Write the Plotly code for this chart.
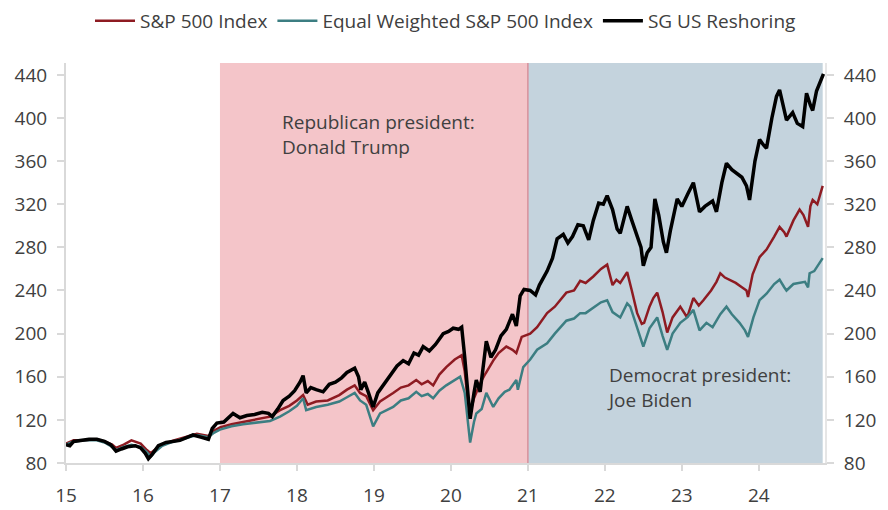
import plotly.graph_objects as go

# ---------------- data ----------------
sg_x = [15.00,15.05,15.10,15.20,15.30,15.40,15.50,15.58,15.65,15.72,15.80,15.90,15.97,16.03,16.07,16.12,16.20,16.30,16.40,16.48,
        16.55,16.65,16.75,16.85,16.90,16.96,17.05,17.17,17.26,17.35,17.45,17.55,17.63,17.68,17.75,17.82,17.90,17.97,18.04,18.08,
        18.12,18.18,18.25,18.34,18.42,18.50,18.58,18.65,18.75,18.80,18.83,18.88,18.93,18.99,19.05,19.12,19.20,19.30,19.38,19.45,
        19.52,19.58,19.64,19.72,19.80,19.90,19.97,20.03,20.10,20.14,20.18,20.22,20.25,20.30,20.33,20.38,20.43,20.46,20.52,20.58,
        20.65,20.72,20.80,20.85,20.90,20.95,21.03,21.10,21.15,21.25,21.32,21.38,21.46,21.52,21.58,21.65,21.72,21.79,21.85,21.92,
        21.98,22.03,22.10,22.16,22.20,22.29,22.35,22.42,22.47,22.50,22.55,22.60,22.65,22.70,22.76,22.80,22.85,22.94,23.00,23.08,
        23.15,23.23,23.30,23.40,23.45,23.52,23.58,23.65,23.71,23.78,23.84,23.88,23.95,24.01,24.06,24.10,24.17,24.23,24.27,24.32,
        24.36,24.44,24.50,24.57,24.62,24.67,24.70,24.75,24.79,24.84]
sg_y = [97,96,100,101,102,102,100,97,91,93,95,96,94,89,84,88,96,99,100,101,
        103,106,104,102,112,117,118,126,122,124,125,127,126,123,130,138,142,147,155,161,
        145,150,148,146,153,155,159,164,168,160,148,155,145,132,145,152,160,170,175,172,
        182,180,188,184,190,200,202,205,204,206,178,140,121,145,157,146,180,193,178,185,
        198,204,218,207,235,241,240,236,245,258,270,288,292,284,290,301,300,287,305,321,
        320,328,315,297,293,318,305,290,280,263,275,280,325,310,285,275,295,325,318,330,
        340,313,318,323,313,340,358,352,349,345,337,324,360,380,375,372,400,420,426,410,
        398,405,395,392,423,412,407,425,432,441]

spx_x = [15.00,15.10,15.25,15.40,15.50,15.60,15.65,15.75,15.85,15.97,16.05,16.10,16.15,16.25,16.40,16.55,16.70,16.85,16.92,17.00,
         17.15,17.30,17.50,17.65,17.78,17.90,18.00,18.08,18.14,18.25,18.40,18.55,18.65,18.75,18.82,18.90,18.99,19.08,19.25,19.35,
         19.45,19.55,19.62,19.70,19.77,19.85,19.94,20.05,20.14,20.18,20.22,20.25,20.30,20.38,20.45,20.55,20.62,20.72,20.80,20.85,
         20.92,21.03,21.12,21.25,21.35,21.50,21.60,21.68,21.75,21.85,21.95,22.03,22.10,22.15,22.20,22.29,22.35,22.42,22.48,22.51,
         22.58,22.63,22.68,22.75,22.81,22.88,22.98,23.07,23.15,23.22,23.28,23.38,23.45,23.50,23.56,23.62,23.70,23.78,23.84,23.86,
         23.92,24.01,24.10,24.20,24.27,24.33,24.36,24.45,24.53,24.58,24.64,24.67,24.70,24.76,24.83]
spx_y = [98,101,101,102,100,97,94,97,101,98,92,89,92,97,101,104,107,105,110,113,
         116,118,121,123,129,133,138,143,134,137,138,143,148,152,145,142,129,137,145,150,
         152,157,153,156,152,162,169,176,180,165,138,127,140,154,163,175,182,188,185,182,
         197,200,206,219,225,238,240,249,247,253,260,264,245,250,247,257,240,219,209,210,
         225,233,238,220,201,215,225,215,233,226,231,240,248,256,252,250,247,243,240,234,
         255,271,278,290,299,294,290,305,315,310,299,318,324,320,337]

ew_x = [15.00,15.10,15.25,15.40,15.50,15.60,15.65,15.75,15.85,15.97,16.05,16.10,16.15,16.25,16.40,16.55,16.70,16.85,16.92,17.00,
        17.15,17.30,17.50,17.65,17.78,17.90,18.00,18.08,18.12,18.25,18.40,18.55,18.65,18.75,18.82,18.90,18.99,19.08,19.25,19.35,
        19.45,19.55,19.62,19.70,19.77,19.85,19.94,20.05,20.12,20.18,20.22,20.25,20.30,20.33,20.40,20.46,20.55,20.62,20.70,20.76,
        20.85,20.87,20.94,21.03,21.12,21.25,21.35,21.50,21.60,21.68,21.75,21.85,21.95,22.03,22.10,22.20,22.29,22.33,22.40,22.45,
        22.50,22.58,22.63,22.68,22.75,22.81,22.88,22.98,23.07,23.15,23.23,23.32,23.40,23.50,23.58,23.65,23.75,23.82,23.86,23.93,
        24.01,24.10,24.20,24.27,24.33,24.36,24.45,24.53,24.60,24.64,24.66,24.72,24.78,24.83]
ew_y = [97,100,101,101,99,95,92,95,97,95,90,86,90,96,100,103,106,104,108,111,
        114,116,118,119,123,128,133,140,129,132,134,137,141,145,138,134,114,126,132,138,
        140,146,142,144,140,147,152,157,160,145,115,99,118,126,130,145,132,140,146,148,
        157,148,169,176,185,191,200,212,214,219,219,224,229,231,220,215,228,225,210,200,
        188,205,210,215,198,185,200,210,215,222,203,210,206,218,225,218,210,203,197,215,
        231,237,246,250,243,240,246,247,248,243,256,258,264,270]

series_names = ["S&P 500 Index", "Equal Weighted S&P 500 Index", "SG US Reshoring"]
tick_years = [15, 16, 17, 18, 19, 20, 21, 22, 23, 24]
tick_labels = ["15", "16", "17", "18", "19", "20", "21", "22", "23", "24"]
y_ticks = [80, 120, 160, 200, 240, 280, 320, 360, 400, 440]
trump_term = [17, 21]
biden_term = [21, 24.83]

# ---------------- figure ----------------
FONT = "Open Sans"
TXT = "#404040"
fig = go.Figure()

fig.add_trace(go.Scatter(x=spx_x, y=spx_y, mode="lines", name=series_names[0],
                         line=dict(color="#8E1B22", width=2.5)))
fig.add_trace(go.Scatter(x=ew_x, y=ew_y, mode="lines", name=series_names[1],
                         line=dict(color="#3C7E82", width=2.5)))
fig.add_trace(go.Scatter(x=sg_x, y=sg_y, mode="lines", name=series_names[2],
                         line=dict(color="#000000", width=3.5)))
# invisible trace for right axis
fig.add_trace(go.Scatter(x=[15], y=[80], yaxis="y2", mode="markers",
                         marker=dict(opacity=0), showlegend=False, hoverinfo="skip"))

fig.add_shape(type="rect", xref="x", yref="paper", x0=trump_term[0], x1=trump_term[1], y0=0, y1=1,
              fillcolor="#F4C5C9", line=dict(width=0), layer="below")
fig.add_shape(type="rect", xref="x", yref="paper", x0=biden_term[0], x1=biden_term[1], y0=0, y1=1,
              fillcolor="#C4D3DD", line=dict(width=0), layer="below")
fig.add_shape(type="line", xref="x", yref="paper", x0=trump_term[1], x1=trump_term[1], y0=0, y1=1,
              line=dict(color="#D8909B", width=1.5), layer="below")

fig.add_annotation(x=17.78, y=410, xref="x", yref="y", xanchor="left", yanchor="top",
                   text="Republican president:<br>Donald Trump", showarrow=False, align="left",
                   font=dict(family=FONT, size=19, color=TXT))
fig.add_annotation(x=22.0, y=176, xref="x", yref="y", xanchor="left", yanchor="top",
                   text="Democrat president:<br>Joe Biden", showarrow=False, align="left",
                   font=dict(family=FONT, size=19, color=TXT))

axis_font = dict(family=FONT, size=19, color=TXT)
# page body has an 8px margin, so the figure is sized/offset to land the plot area where the reference has it
fig.update_layout(
    width=880, height=502,
    margin=dict(l=58, r=63, t=55, b=47, autoexpand=False),
    paper_bgcolor="white", plot_bgcolor="white",
    font=dict(family=FONT, color=TXT),
    showlegend=True,
    legend=dict(orientation="h", x=0.5, xanchor="center", y=1.105, yanchor="middle",
                font=dict(family=FONT, size=19, color=TXT), itemwidth=40,
                bgcolor="rgba(0,0,0,0)"),
    xaxis=dict(range=[15, 24.86], tickvals=tick_years, ticktext=tick_labels,
               showgrid=False, zeroline=False, showline=True, linecolor="#D9D9D9", linewidth=2,
               ticks="outside", ticklen=6, tickcolor="#D9D9D9", tickwidth=1.5,
               tickfont=axis_font, ticklabelstandoff=8),
    yaxis=dict(range=[80, 451], tickvals=y_ticks, showgrid=False, zeroline=False,
               showline=True, linecolor="#D9D9D9", linewidth=2,
               ticks="outside", ticklen=7, tickcolor="#D9D9D9", tickwidth=1.5,
               tickfont=axis_font, ticklabelstandoff=6),
    yaxis2=dict(range=[80, 451], tickvals=y_ticks, overlaying="y", side="right",
                showgrid=False, zeroline=False, showline=True, linecolor="#E6E6E6", linewidth=2,
                ticks="outside", ticklen=7, tickcolor="#D9D9D9", tickwidth=1.5,
                tickfont=axis_font, ticklabelstandoff=6),
)

fig.write_html("out.html")
